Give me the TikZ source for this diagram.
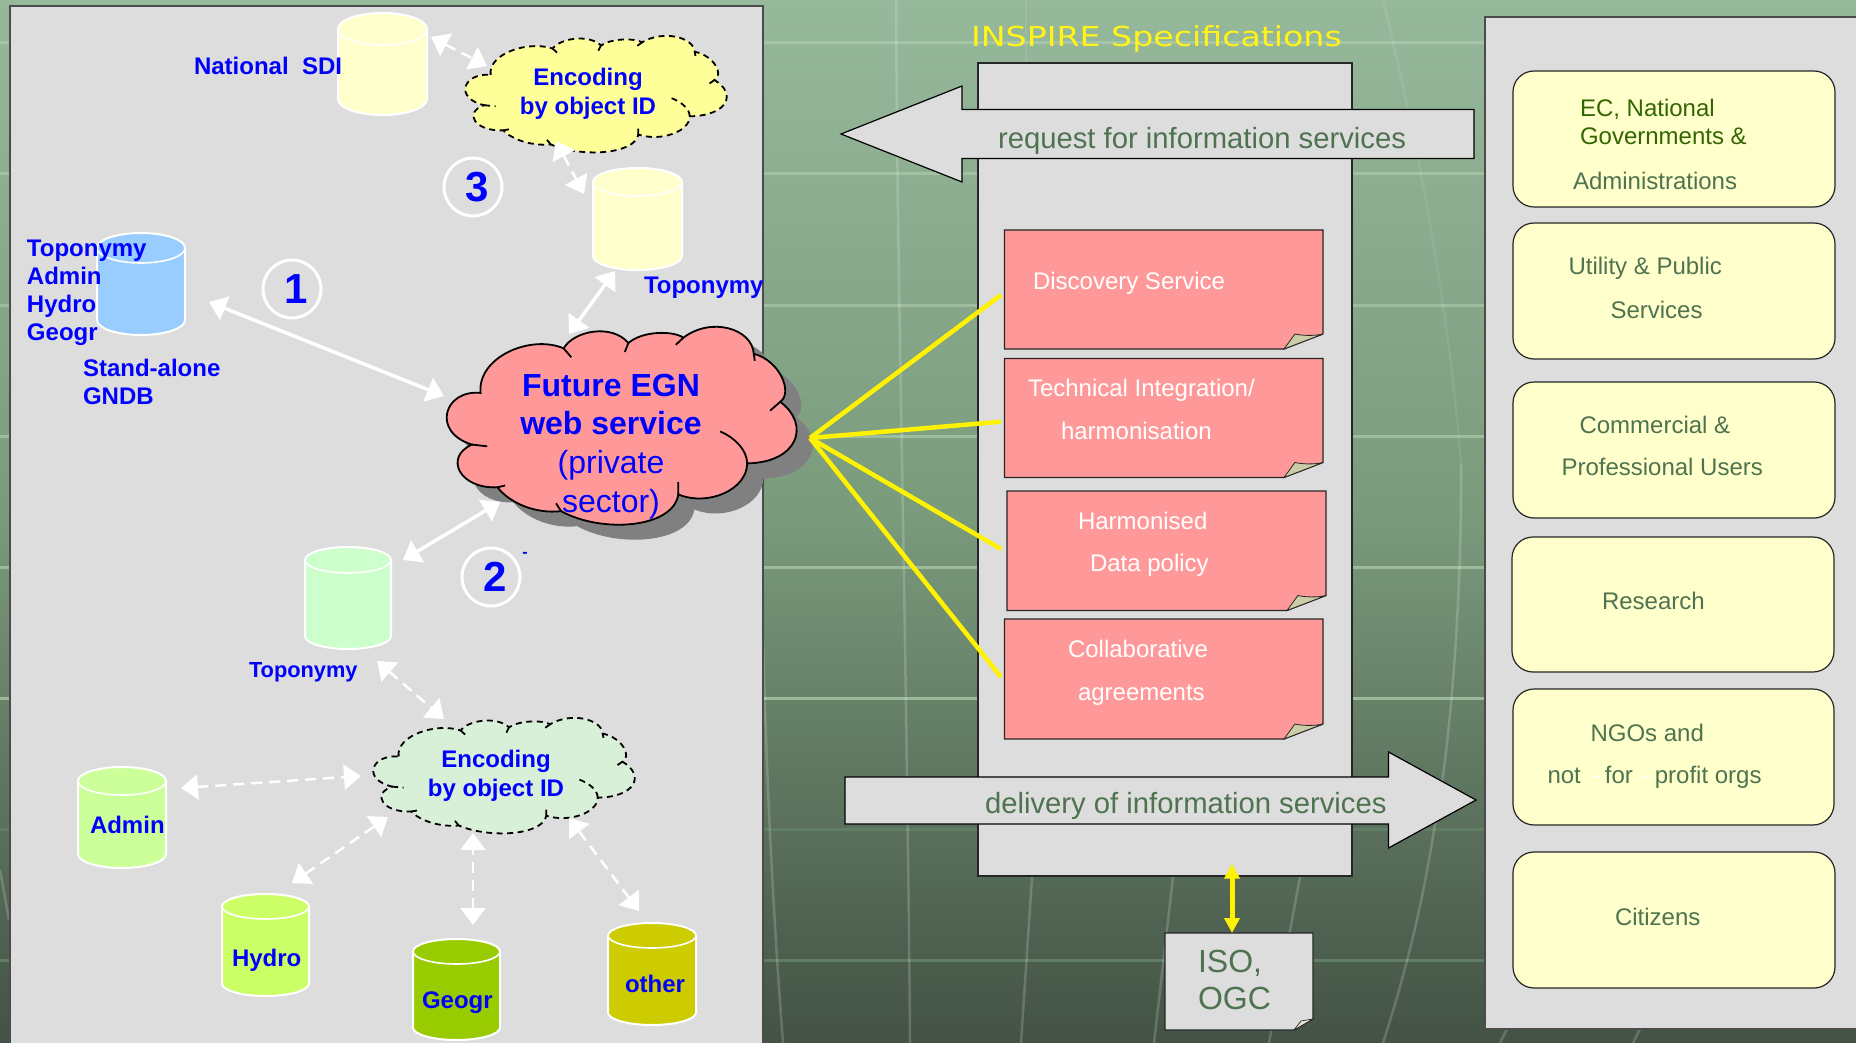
\documentclass[tikz,border=0pt]{standalone}
\usepackage{fontspec}
\usepackage{graphicx}
\setmainfont{Liberation Sans}
\newfontfamily\inspirefont{DejaVu Sans}
\usetikzlibrary{arrows.meta,calc}
\definecolor{bgA}{HTML}{97B99B}
\definecolor{bgB}{HTML}{7A9A7C}
\definecolor{bgC}{HTML}{435245}
\definecolor{panel}{HTML}{DDDDDD}
\definecolor{dgreen}{HTML}{4F7350}
\definecolor{ecgreen}{HTML}{336600}
\definecolor{pink}{HTML}{FF9999}
\definecolor{foldtan}{HTML}{CCCCA6}
\definecolor{paleyel}{HTML}{FFFFCC}
\definecolor{cloudyel}{HTML}{FFFF99}
\definecolor{cloudgrn}{HTML}{D8EFD8}
\definecolor{shadowg}{HTML}{808080}
\definecolor{cylblue}{HTML}{99CCFF}
\definecolor{cylgreen}{HTML}{CCFFCC}
\definecolor{cyladmin}{HTML}{CCFF99}
\definecolor{cylhydro}{HTML}{CCFF66}
\definecolor{cylgeogr}{HTML}{99CC00}
\definecolor{cylother}{HTML}{CCCC00}
\tikzset{
  txt/.style n args={2}{inner sep=0pt,outer sep=0pt,text height=0.75*#1 pt,font=\fontsize{#1}{#2}\selectfont},
  arr/.style={white,line width=3.5pt,{Triangle[length=17pt,width=25pt]}-{Triangle[length=17pt,width=25pt]}},
  darr/.style={white,line width=2.5pt,dash pattern=on 11pt off 7pt,{Triangle[length=17pt,width=25pt]}-{Triangle[length=17pt,width=25pt]}},
  hub/.style={yellow,line width=4.5pt},
  grid/.style={line width=3pt},
  merid/.style={line width=2.5pt,white,opacity=.18},
  meridfaint/.style={line width=2.5pt,white,opacity=.08},
  box/.style={draw=black!85,line width=1.2pt},
  round/.style={draw=black!85,line width=1.2pt,fill=paleyel,rounded corners=21pt},
  hit/.style={inner sep=0pt,outer sep=0pt,draw=none},
  ring/.style={circle,draw=white,line width=3pt,minimum size=58pt,inner sep=0pt,text=blue,font=\bfseries\fontsize{42}{42}\selectfont},
}
\newcommand{\cylshape}[7]{%
  \pgfmathsetmacro{\crx}{(#2-#1)/2}
  \filldraw[fill=#6,draw=white,line width=2pt]
    (#1,#3+#5) arc[start angle=180,end angle=0,x radius=\crx pt,y radius=#5 pt]
    -- (#2,#4-#5) arc[start angle=0,end angle=-180,x radius=\crx pt,y radius=#5 pt] -- cycle;
  \draw[white,line width=1.6pt] (#1,#3+#5) arc[start angle=180,end angle=360,x radius=\crx pt,y radius=#5 pt];
  \node[hit,minimum width=#2pt-#1pt,minimum height=#4pt-#3pt] (#7) at ({(#1+#2)/2},{(#3+#4)/2}) {};
}
\newcommand{\cloudoutline}{(942,1100)
  .. controls (935,1000) and (1040,935) .. (1105,975)
  .. controls (1125,925) and (1200,905) .. (1232,960)
  .. controls (1260,925) and (1320,925) .. (1340,945)
  .. controls (1395,885) and (1475,920) .. (1478,990)
  .. controls (1530,1010) and (1555,1100) .. (1530,1125)
  .. controls (1590,1190) and (1565,1295) .. (1465,1298)
  .. controls (1465,1370) and (1390,1420) .. (1330,1385)
  .. controls (1320,1480) and (1180,1495) .. (1100,1432)
  .. controls (1050,1440) and (1000,1410) .. (975,1365)
  .. controls (900,1370) and (870,1280) .. (925,1245)
  .. controls (845,1210) and (870,1090) .. (942,1100) -- cycle}
\newcommand{\cloudcreases}{
  (1105,975) -- (1120,1000)
  (1232,960) -- (1225,985)
  (1340,945) -- (1325,965)
  (1478,990) -- (1480,1010)
  (1530,1125) -- (1510,1150)
  (1465,1298) .. controls (1465,1260) and (1440,1225) .. (1412,1208)
  (1330,1385) -- (1330,1350)
  (1100,1432) -- (1090,1410)
  (975,1365) -- (990,1360)
  (925,1245) -- (955,1250)}
\newcommand{\cloudshape}[6]{%
  \begin{scope}[shift={(#1,#2)},xscale=#3/675,yscale=#4/553,shift={(-880,-915)}]
    \filldraw[fill=#6,draw=black,line width=#5] \cloudoutline;
    \draw[black,line width=#5] \cloudcreases;
  \end{scope}}
\newcommand{\noteshape}[7]{%
  \filldraw[fill=#5,draw=black!85,line width=1.2pt] (#1,#2) -- (#3,#2) -- (#3,#4-#6) -- (#3-#7,#4) -- (#1,#4) -- cycle;
  \filldraw[fill=foldtan,draw=black!85,line width=.8pt] (#3,#4-#6) .. controls (#3-.25*#7,#4-.85*#6) and (#3-.55*#7,#4-.9*#6) .. (#3-.72*#7,#4-#6) -- (#3-#7,#4) -- cycle;
}
\begin{document}
\begin{tikzpicture}[x=1pt,y=-1pt]
\useasboundingbox (0,0) rectangle (1856,1043);
% background
\shade[top color=bgA,bottom color=bgB] (0,0) rectangle (1856,521);
\shade[top color=bgB,bottom color=bgC] (0,520.5) rectangle (1856,1043);
\foreach \yy/\cc in {43/A6C4A8,174/A3C2A4,305/A0BE9F,436/9EBD9D,567/9DBB9B,698/9BB999,829/5F7E63,960/5F7E63}{
  \definecolor{gg}{HTML}{\cc}
  \draw[grid,gg] (0,\yy) -- (1856,\yy);
}
\draw[merid] (896,0) .. controls (897,200) and (901,400) .. (903,520) .. controls (906,700) and (909,900) .. (910,1043);
\draw[merid] (763,640) .. controls (766,760) and (772,900) .. (783,1043);
\draw[meridfaint] (1026,0) -- (1026,62);
\draw[merid] (1032,877) -- (1021,1043);
\draw[merid] (1173,877) -- (1154,1043);
\draw[merid] (1300,877) -- (1269,1043);
\draw[meridfaint] (1383,0) .. controls (1420,150) and (1450,320) .. (1461,464);
\draw[merid] (1461,464) .. controls (1462,600) and (1450,753) .. (1434,830) .. controls (1420,920) and (1400,990) .. (1383,1043);
\draw[merid] (1507,1029) -- (1500,1043);
\draw[merid] (1640,1029) -- (1633,1043);
\draw[merid] (0,870) -- (9,920);
% left panel
\fill[panel,draw=black!70,line width=2pt] (10,6) rectangle (763,1060);
% cylinders and texts of the left panel
\cylshape{338}{427}{13}{115}{16}{paleyel}{natdb}
\cylshape{593}{682}{168}{270}{14}{paleyel}{topodb}
\cylshape{97}{185}{233}{335}{15}{cylblue}{bluedb}
\cylshape{305}{391}{547}{649}{13}{cylgreen}{greendb}
\cylshape{78}{166}{767}{868}{14}{cyladmin}{admindb}
\cylshape{222}{309}{894}{996}{12.5}{cylhydro}{hydrodb}
\cylshape{413}{500}{939}{1040}{12.5}{cylgeogr}{geogrdb}
\cylshape{608}{696}{923}{1025}{12.5}{cylother}{otherdb}
\node[txt={24}{24},font=\bfseries\fontsize{24}{24}\selectfont,text=blue,anchor=north west] (natl) at (194,57) {National\ \ SDI};
% clouds
\begin{scope}[shift={(16,15)}]
\begin{scope}[shift={(449,327)},xscale=344/675,yscale=197/553,shift={(-880,-915)}]
\fill[shadowg] \cloudoutline;
\end{scope}
\end{scope}
\cloudshape{449}{327}{344}{197}{1.8pt}{pink}
\begin{scope}[dash pattern=on 6pt off 4.5pt]
\cloudshape{467}{36}{257}{116}{1.8pt}{cloudyel}
\cloudshape{375}{718}{257}{115}{1.8pt}{cloudgrn}
\end{scope}
\node[hit,minimum width=344pt,minimum height=197pt] (egn) at (621,425.5) {};
\node[hit,minimum width=257pt,minimum height=116pt] (ycloud) at (595.5,94) {};
\node[hit,minimum width=257pt,minimum height=115pt] (gcloud) at (503.5,775.5) {};
% connectors left
\draw[arr] ($(bluedb)+(68,18)$) -- ($(egn)+(-177,-29.5)$);
\draw[arr] ($(topodb)+(-22.5,52)$) -- ($(egn)+(-52,-91.5)$);
\draw[arr] ($(egn)+(-121,76.5)$) -- ($(greendb)+(55,-38)$);
\draw[darr] ($(natdb)+(48.5,-27)$) -- ($(ycloud)+(-108.5,-28)$);
\draw[darr] ($(ycloud)+(-39.5,47)$) -- ($(topodb)+(-53.5,-25)$);
\draw[darr] ($(greendb)+(29,63)$) -- ($(gcloud)+(-59.5,-56.5)$);
\draw[darr] ($(admindb)+(59,-29.5)$) -- ($(gcloud)+(-142.5,.5)$);
\draw[darr] ($(hydrodb)+(26.5,-62)$) -- ($(gcloud)+(-115.5,41.5)$);
\draw[darr] ($(geogrdb)+(16.5,-64.5)$) -- ($(gcloud)+(-30.5,57.5)$);
\draw[darr] ($(otherdb)+(-13,-63)$) -- ($(gcloud)+(65.5,42.5)$);
% rings
\node[ring] (r1) at (292,289) {\hspace*{8pt}1};
\node[ring] (r3) at (473,187) {\hspace*{8pt}3};
\node[ring] (r2) at (491,577) {\hspace*{8pt}2};
\node[txt={16}{16},font=\bfseries\fontsize{16}{16}\selectfont,text=blue,anchor=north] (dash) at (525,545) {-};
% left texts
\tikzset{bt/.style={txt={24}{28.3},font=\bfseries\fontsize{24}{28.3}\selectfont,text=blue}}
\node[bt,anchor=north west,align=left] (list) at (27,322.9) {Toponymy\\Admin\\Hydro\\Geogr};
\node[bt,anchor=north west,align=left] (gndb) at (83,386.3) {Stand-alone\\GNDB};
\node[bt,anchor=north west] (ty) at (644,276) {Toponymy};
\node[txt={21.8}{21.8},font=\bfseries\fontsize{21.8}{21.8}\selectfont,text=blue,anchor=north west] (tg) at (249,661) {Toponymy};
\node[bt,anchor=north west] (ta) at (90,815) {Admin};
\node[bt,anchor=north west] (th) at (232,948) {Hydro};
\node[bt,anchor=north west] (tge) at (422,990) {Geogr};
\node[bt,anchor=north west] (tot) at (625,974) {other};
\node[bt,anchor=north,align=center] (ey) at (588,96.3) {Encoding\\by object ID};
\node[txt={24}{29},font=\bfseries\fontsize{24}{29}\selectfont,text=blue,anchor=north,align=center] (eg) at (496,778) {Encoding\\by object ID};
\node[txt={32}{38.7},text=blue,anchor=north,align=center] (egntext) at (611,488.1) {\textbf{Future EGN}\\\textbf{web service}\\(private\\sector)};
% central column
\node[txt={27.5}{27.5},font=\inspirefont\fontsize{27.5}{27.5}\selectfont,text=yellow!90!white,anchor=north west] (insp) at (971,25.5) {\scalebox{1.208}[1]{INSPIRE Specifications}};
\node[box,fill=panel,minimum width=374pt,minimum height=813pt,inner sep=0pt] (spec) at (1165,469.5) {};
\filldraw[fill=panel,draw=black,line width=1.2pt] (1474,109.5) -- (962,109.5) -- (962,86) -- (841,134) -- (962,182) -- (962,158.5) -- (1474,158.5) -- cycle;
\filldraw[fill=panel,draw=black,line width=1.2pt] (845,777) -- (1388.5,777) -- (1388.5,752) -- (1476,800) -- (1388.5,848) -- (1388.5,824) -- (845,824) -- cycle;
\node[txt={29.25}{29.25},text=dgreen,anchor=north west] (req) at (998,126.5) {request for information services};
\node[txt={29.25}{29.25},text=dgreen,anchor=north west] (del) at (985,792) {delivery of information services};
% notes
\noteshape{1004.5}{230}{1323}{349}{pink}{15}{39}
\noteshape{1004.5}{358.5}{1323}{477.5}{pink}{15}{39}
\noteshape{1007}{491}{1326}{610.5}{pink}{15}{39}
\noteshape{1004.5}{619}{1323}{739}{pink}{15}{39}
\node[hit,minimum width=318.5pt,minimum height=119pt] (n1) at (1163.75,289.5) {};
\node[hit,minimum width=318.5pt,minimum height=119pt] (n2) at (1163.75,418) {};
\node[hit,minimum width=319pt,minimum height=119.5pt] (n3) at (1166.5,550.75) {};
\node[hit,minimum width=318.5pt,minimum height=120pt] (n4) at (1163.75,679) {};
\tikzset{wt/.style={txt={24}{42.5},text=white}}
\node[wt,anchor=north west] (t1) at (1033,271) {Discovery Service};
\node[wt,anchor=north west,align=left] (t2) at (1028,421) {Technical Integration/\\\hspace*{33pt}harmonisation};
\node[wt,anchor=north west,align=left] (t3) at (1078,553.5) {Harmonised\\\hspace*{12pt}Data policy};
\node[wt,anchor=north west,align=left] (t4) at (1068,682) {Collaborative\\[.5pt]\hspace*{10pt}agreements};
% yellow connectors
\coordinate (hubpt) at ($(egn)+(189,12.5)$);
\draw[hub] (hubpt) -- ($(n1.west)+(-3.5,5.5)$);
\draw[hub] (hubpt) -- ($(n2.west)+(-3.5,3.7)$);
\draw[hub] (hubpt) -- ($(n3.west)+(-6,-1.75)$);
\draw[hub] (hubpt) -- ($(n4.west)+(-3.5,-2)$);
% ISO
\filldraw[fill=panel,draw=black!85,line width=1.2pt] (1165,933) -- (1313,933) -- (1313,1019) -- (1294,1030) -- (1165,1030) -- cycle;
\filldraw[fill=foldtan!50!white,draw=black!85,line width=.7pt] (1313,1019) -- (1301,1021) -- (1294,1030) -- cycle;
\node[hit,minimum width=148pt,minimum height=97pt] (iso) at (1239,981.5) {};
\node[txt={32}{37},text=dgreen,anchor=north west,align=left] (isot) at (1198,985) {ISO,\\OGC};
\draw[yellow,line width=5pt,{Triangle[length=15pt,width=15pt]}-{Triangle[length=15pt,width=15pt]}] ($(spec.south)+(67,-13)$) -- ($(iso.north)+(-7,0)$);
% right panel
\fill[panel,draw=black!70,line width=2pt] (1485,17) rectangle (1870,1029);
\node[round,minimum width=322pt,minimum height=136pt,inner sep=0pt] (b1) at (1674,139) {};
\node[round,minimum width=322pt,minimum height=136pt,inner sep=0pt] (b2) at (1674,291) {};
\node[round,minimum width=322pt,minimum height=136pt,inner sep=0pt] (b3) at (1674,450) {};
\node[round,minimum width=322pt,minimum height=135pt,inner sep=0pt] (b4) at (1673,604.5) {};
\node[round,minimum width=321pt,minimum height=136pt,inner sep=0pt] (b5) at (1673.5,757) {};
\node[round,minimum width=322pt,minimum height=136pt,inner sep=0pt] (b6) at (1674,920) {};
\tikzset{rt/.style={txt={24}{42},text=dgreen}}
\node[txt={24}{28},text=ecgreen,anchor=north west,align=left] (tb1) at (1580,127) {EC, National\\Governments \&};
\node[rt,anchor=north west] (tb1b) at (1573,172) {Administrations};
\node[rt,anchor=north west,align=left] (tb2) at (1568.5,300) {Utility \& Public\\[2pt]\hspace*{42pt}Services};
\node[rt,anchor=north west,align=left] (tb3) at (1561.5,457) {\hspace*{18pt}Commercial \&\\Professional Users};
\node[rt,anchor=north west] (tb4) at (1602,591) {Research};
\node[rt,anchor=north west,align=left] (tb5) at (1547.5,765) {\hspace*{43pt}NGOs and\\not\hspace*{12pt}\textcolor{white}{-}\hspace*{4pt}for\hspace*{10pt}\textcolor{white}{-}\hspace*{4pt}profit orgs};
\node[rt,anchor=north west] (tb6) at (1615,907) {Citizens};
\end{tikzpicture}
\end{document}
